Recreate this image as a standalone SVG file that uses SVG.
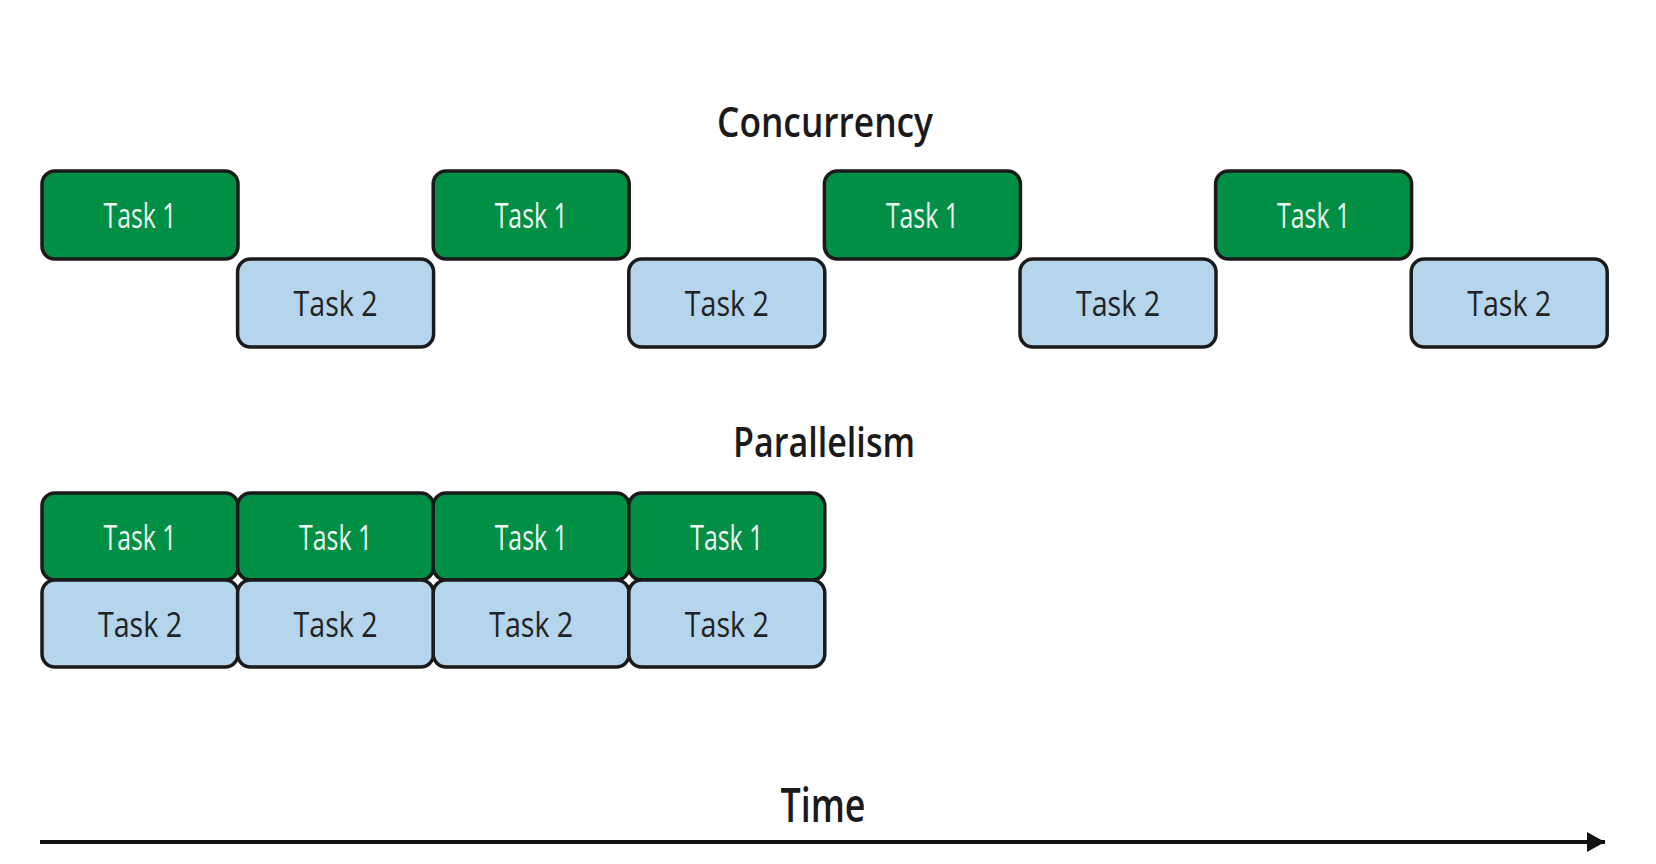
<svg xmlns="http://www.w3.org/2000/svg" width="1656" height="864" viewBox="0 0 1656 864">
<defs>
<style>
.t1 rect{fill:#008f45;stroke:#1a1a1a;stroke-width:3.5}
.t2 rect{fill:#b4d5ec;stroke:#1a1a1a;stroke-width:3.5}
.t1 text{fill:#eef8f1;font-family:"Open Sans","Liberation Sans",sans-serif;font-weight:500;font-size:35px;text-anchor:middle}
.t2 text{fill:#222;font-family:"Open Sans","Liberation Sans",sans-serif;font-weight:500;font-size:35px;text-anchor:middle}
.title{fill:#1a1a1a;font-family:"Open Sans","Liberation Sans",sans-serif;font-weight:600;text-anchor:middle}
</style>
<marker id="ah" markerWidth="18" markerHeight="20" refX="18" refY="10" orient="auto" markerUnits="userSpaceOnUse">
<path d="M0,0 L18,10 L0,20 Z" fill="#111"/>
</marker>
</defs>
<rect width="1656" height="864" fill="#fff"/>
<text class="title" x="825" y="137" font-size="42" textLength="216" lengthAdjust="spacingAndGlyphs">Concurrency</text>
<text class="title" x="824" y="457" font-size="42" textLength="182" lengthAdjust="spacingAndGlyphs">Parallelism</text>
<text class="title" x="823" y="822" font-size="47" textLength="85" lengthAdjust="spacingAndGlyphs">Time</text>

<g id="c-t1-1" class="t1"><rect x="42" y="171" width="196" height="88" rx="13"/><text x="140" y="228" textLength="73" lengthAdjust="spacingAndGlyphs">Task 1</text></g>
<g id="c-t2-1" class="t2"><rect x="237.6" y="259" width="196" height="88" rx="13"/><text x="335.6" y="316" textLength="84" lengthAdjust="spacingAndGlyphs">Task 2</text></g>
<g id="c-t1-2" class="t1"><rect x="433.2" y="171" width="196" height="88" rx="13"/><text x="531.2" y="228" textLength="73" lengthAdjust="spacingAndGlyphs">Task 1</text></g>
<g id="c-t2-2" class="t2"><rect x="628.8" y="259" width="196" height="88" rx="13"/><text x="726.8" y="316" textLength="84" lengthAdjust="spacingAndGlyphs">Task 2</text></g>
<g id="c-t1-3" class="t1"><rect x="824.4" y="171" width="196" height="88" rx="13"/><text x="922.4" y="228" textLength="73" lengthAdjust="spacingAndGlyphs">Task 1</text></g>
<g id="c-t2-3" class="t2"><rect x="1020" y="259" width="196" height="88" rx="13"/><text x="1118" y="316" textLength="84" lengthAdjust="spacingAndGlyphs">Task 2</text></g>
<g id="c-t1-4" class="t1"><rect x="1215.6" y="171" width="196" height="88" rx="13"/><text x="1313.6" y="228" textLength="73" lengthAdjust="spacingAndGlyphs">Task 1</text></g>
<g id="c-t2-4" class="t2"><rect x="1411.2" y="259" width="196" height="88" rx="13"/><text x="1509.2" y="316" textLength="84" lengthAdjust="spacingAndGlyphs">Task 2</text></g>

<g id="p-t1-1" class="t1"><rect x="42" y="493" width="196" height="87" rx="13"/><text x="140" y="550" textLength="73" lengthAdjust="spacingAndGlyphs">Task 1</text></g>
<g id="p-t1-2" class="t1"><rect x="237.6" y="493" width="196" height="87" rx="13"/><text x="335.6" y="550" textLength="73" lengthAdjust="spacingAndGlyphs">Task 1</text></g>
<g id="p-t1-3" class="t1"><rect x="433.2" y="493" width="196" height="87" rx="13"/><text x="531.2" y="550" textLength="73" lengthAdjust="spacingAndGlyphs">Task 1</text></g>
<g id="p-t1-4" class="t1"><rect x="628.8" y="493" width="196" height="87" rx="13"/><text x="726.8" y="550" textLength="73" lengthAdjust="spacingAndGlyphs">Task 1</text></g>
<g id="p-t2-1" class="t2"><rect x="42" y="580" width="196" height="87" rx="13"/><text x="140" y="637" textLength="84" lengthAdjust="spacingAndGlyphs">Task 2</text></g>
<g id="p-t2-2" class="t2"><rect x="237.6" y="580" width="196" height="87" rx="13"/><text x="335.6" y="637" textLength="84" lengthAdjust="spacingAndGlyphs">Task 2</text></g>
<g id="p-t2-3" class="t2"><rect x="433.2" y="580" width="196" height="87" rx="13"/><text x="531.2" y="637" textLength="84" lengthAdjust="spacingAndGlyphs">Task 2</text></g>
<g id="p-t2-4" class="t2"><rect x="628.8" y="580" width="196" height="87" rx="13"/><text x="726.8" y="637" textLength="84" lengthAdjust="spacingAndGlyphs">Task 2</text></g>

<g id="connectors">
<line x1="40" y1="842" x2="1605" y2="842" stroke="#111" stroke-width="4" marker-end="url(#ah)"/>
</g>
</svg>
